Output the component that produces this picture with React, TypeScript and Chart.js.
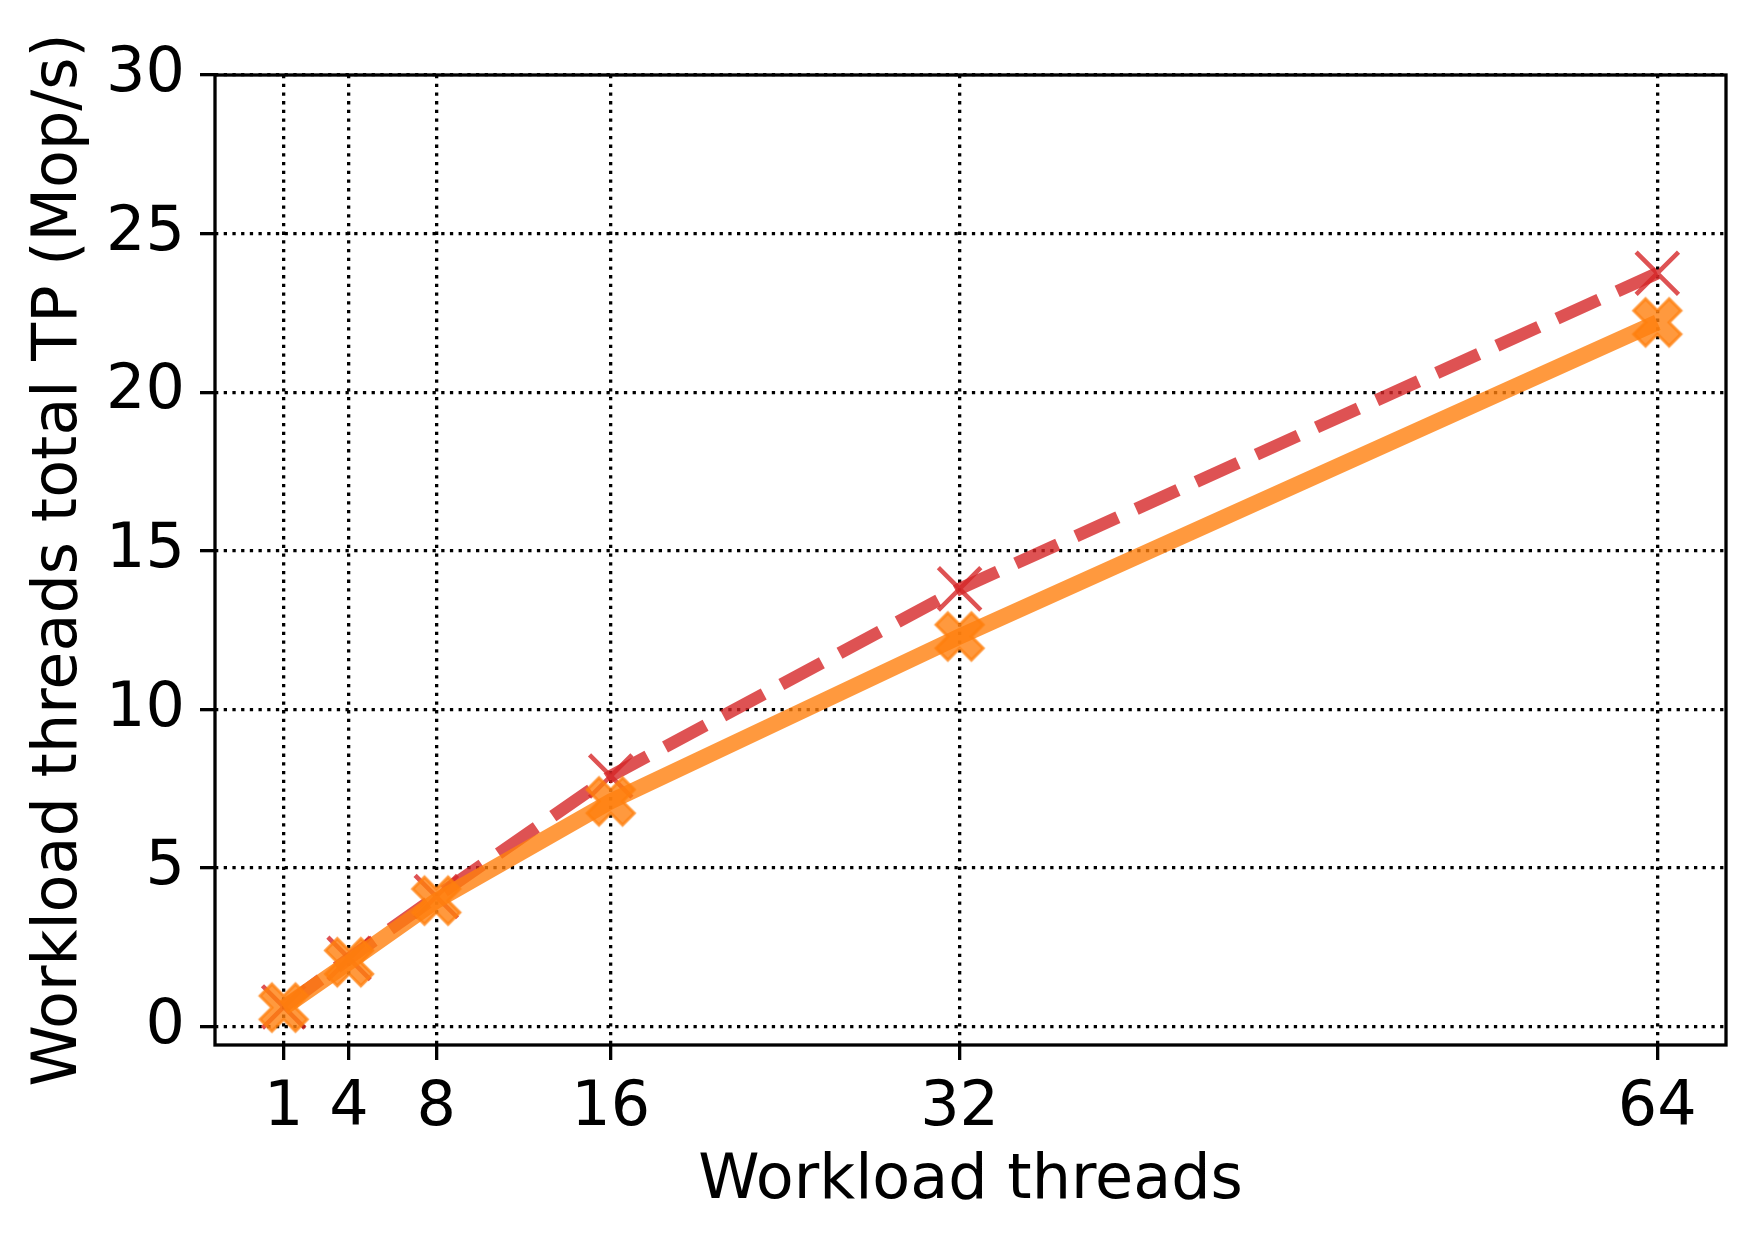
import React, { useEffect, useRef } from "react";
import { Chart, registerables } from "chart.js";

Chart.register(...registerables);

const threads = [1, 4, 8, 16, 32, 64];
const xTickValues = [1, 4, 8, 16, 32, 64];
const yTickValues = [0, 5, 10, 15, 20, 25, 30];
const orangeValues = [0.6, 2.03, 3.97, 7.1, 12.3, 22.2];
const redValues = [0.62, 2.15, 4.1, 7.9, 13.8, 23.75];

const ORANGE = "rgba(255,127,14,0.8)";
const RED = "rgba(214,39,40,0.8)";
const FONT = "'DejaVu Sans', 'Liberation Sans', sans-serif";

function makeFilledX(ms: number, color: string, lw: number): HTMLCanvasElement {
  const size = Math.ceil(ms * 0.95 + lw * 2 + 4);
  const c = document.createElement("canvas");
  c.width = size;
  c.height = size;
  const ctx = c.getContext("2d")!;
  const pts = [
    [-1, -3], [1, -3], [1, -1], [3, -1], [3, 1], [1, 1],
    [1, 3], [-1, 3], [-1, 1], [-3, 1], [-3, -1], [-1, -1],
  ];
  ctx.translate(size / 2, size / 2);
  ctx.rotate(Math.PI / 4);
  ctx.beginPath();
  pts.forEach(([x, y], i) => {
    const px = (x * ms) / 6;
    const py = (y * ms) / 6;
    if (i === 0) ctx.moveTo(px, py);
    else ctx.lineTo(px, py);
  });
  ctx.closePath();
  ctx.fillStyle = color;
  ctx.fill();
  ctx.lineWidth = lw;
  ctx.lineJoin = "miter";
  ctx.strokeStyle = color;
  ctx.stroke();
  return c;
}

const framePlugin = {
  id: "frame",
  afterDatasetsDraw(chart: any) {
    const { ctx, chartArea } = chart;
    ctx.save();
    ctx.strokeStyle = "#000";
    ctx.lineWidth = 3.3;
    ctx.setLineDash([]);
    ctx.strokeRect(chartArea.left, chartArea.top, chartArea.right - chartArea.left, chartArea.bottom - chartArea.top);
    ctx.restore();
  },
};

function zeroPadding(scale: any) {
  scale.paddingLeft = 0;
  scale.paddingRight = 0;
  scale.paddingTop = 0;
  scale.paddingBottom = 0;
}

export default function App() {
  const ref = useRef<HTMLCanvasElement | null>(null);

  useEffect(() => {
    const canvas = ref.current;
    if (!canvas) return;
    const xMarker = makeFilledX(50, ORANGE, 3);
    const gridCommon = {
      color: "#000",
      lineWidth: 3.3,
      drawTicks: true,
      tickLength: 15,
      tickWidth: 3.3,
      tickColor: "#000",
      tickBorderDash: [],
    };
    const chart = new Chart(canvas, {
      type: "line",
      data: {
        datasets: [
          {
            label: "orange",
            data: threads.map((x, i) => ({ x, y: orangeValues[i] })),
            borderColor: ORANGE,
            backgroundColor: ORANGE,
            borderWidth: 16,
            tension: 0,
            pointStyle: xMarker as any,
            pointRadius: 25,
            fill: false,
          },
          {
            label: "red",
            data: threads.map((x, i) => ({ x, y: redValues[i] })),
            borderColor: RED,
            backgroundColor: RED,
            borderWidth: 12.5,
            borderDash: [46, 20],
            tension: 0,
            pointStyle: "crossRot",
            pointRadius: 30,
            pointBorderWidth: 4.5,
            pointBorderColor: RED,
            fill: false,
          },
        ],
      },
      options: {
        responsive: false,
        animation: false,
        devicePixelRatio: 1,
        layout: { autoPadding: false, padding: { left: 0, top: 75, right: 30, bottom: 0 } },
        plugins: { legend: { display: false }, tooltip: { enabled: false } },
        scales: {
          x: {
            type: "linear",
            min: -2.15,
            max: 67.15,
            border: { display: false, dash: [3.3, 5.4] },
            grid: { ...gridCommon, borderDash: [3.3, 5.4] } as any,
            ticks: {
              color: "#000",
              font: { family: FONT, size: 62 },
              padding: 12,
              maxRotation: 0,
              autoSkip: false,
            },
            afterBuildTicks: (scale: any) => {
              scale.ticks = xTickValues.map((v) => ({ value: v }));
            },
            afterFit: (scale: any) => {
              scale.height = 196;
              zeroPadding(scale);
            },
            title: {
              display: true,
              text: "Workload threads",
              color: "#000",
              font: { family: FONT, size: 62 },
              padding: { top: 0, bottom: 22 },
            },
          },
          y: {
            type: "linear",
            min: -0.58,
            max: 30,
            border: { display: false, dash: [3.3, 5.4] },
            grid: { ...gridCommon, borderDash: [3.3, 5.4] } as any,
            ticks: {
              color: "#000",
              font: { family: FONT, size: 62 },
              padding: 15,
              autoSkip: false,
            },
            afterBuildTicks: (scale: any) => {
              scale.ticks = yTickValues.map((v) => ({ value: v }));
            },
            afterFit: (scale: any) => {
              scale.width = 215;
              zeroPadding(scale);
            },
            title: {
              display: true,
              text: "Workload threads total TP (Mop/s)",
              color: "#000",
              font: { family: FONT, size: 62 },
              padding: { top: 23, bottom: 0 },
            },
          },
        },
      },
      plugins: [framePlugin],
    });
    return () => chart.destroy();
  }, []);

  return (
    <div style={{ position: "fixed", left: 0, top: 0, width: 1756, height: 1241, background: "#fff" }}>
      <canvas ref={ref} width={1756} height={1241} style={{ display: "block", width: 1756, height: 1241 }} />
    </div>
  );
}
